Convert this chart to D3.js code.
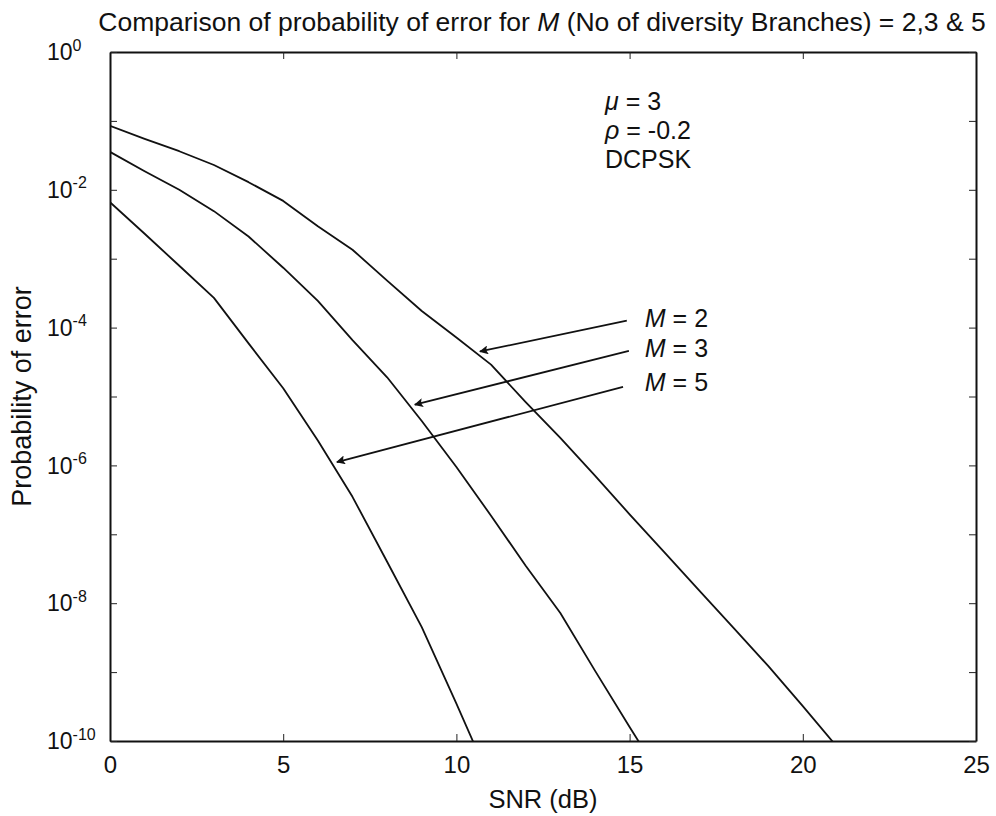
<!DOCTYPE html>
<html>
<head>
<meta charset="utf-8">
<script src="https://cdn.jsdelivr.net/npm/d3@7"></script>
<style>
  body { margin: 0; background: #fff; }
  svg { display: block; font-family: "Liberation Sans", Arial, Helvetica, sans-serif; }
</style>
</head>
<body>
<svg id="chart" width="996" height="816"></svg>
<script>
// ---- data ----
const snr = [0,1,2,3,4,5,6,7,8,9,10,11,12,13,14,15,16,17,18,19,20,21];
const peM2 = [0.0851,0.0550,0.0363,0.0229,0.0129,6.9e-3,2.95e-3,1.35e-3,4.8e-4,1.74e-4,7.2e-5,2.9e-5,8.3e-6,2.5e-6,7.1e-7,1.95e-7,5.5e-8,1.55e-8,4.4e-9,1.23e-9,3.2e-10,8.1e-11];
const peM3 = [0.0355,0.0186,0.0100,4.9e-3,2.1e-3,7.4e-4,2.45e-4,6.6e-5,1.9e-5,4.4e-6,9.5e-7,1.86e-7,3.5e-8,7.2e-9,1.05e-9,1.6e-10,2.5e-11];
const peM5 = [6.6e-3,2.3e-3,7.9e-4,2.7e-4,5.9e-5,1.32e-5,2.3e-6,3.5e-7,4.0e-8,4.5e-9,3.5e-10,2.5e-11];
const seriesNames = ["M = 2","M = 3","M = 5"];
const xTicks = [0,5,10,15,20,25];
const yTicks = [1,1e-1,1e-2,1e-3,1e-4,1e-5,1e-6,1e-7,1e-8,1e-9,1e-10];
const yLabelExps = [0,-2,-4,-6,-8,-10];
const titleText = ["Comparison of probability of error for ", "M", " (No of diversity Branches) = 2,3 & 5"];
const xTitle = "SNR (dB)";
const yTitle = "Probability of error";
const infoLines = [["\u03bc", " = 3"], ["\u03c1", " = -0.2"], ["", "DCPSK"]];
// arrow annotations: label anchor, arrow start, arrow tip (data coords: snr, Pe)
const arrows = [
  {label: "2", text: [15.44, 1.4e-4], from: [14.92, 1.26e-4], to: [10.68, 4.5e-5]},
  {label: "3", text: [15.44, 5.0e-5], from: [14.98, 4.6e-5], to: [8.80, 7.6e-6]},
  {label: "5", text: [15.44, 1.62e-5], from: [14.81, 1.38e-5], to: [6.55, 1.12e-6]}
];

// ---- layout ----
const svg = d3.select("#chart");
const L = 110, R = 976, T = 52, B = 741;
const x = d3.scaleLinear().domain([0, 25]).range([L, R]);
const y = d3.scaleLog().domain([1e-10, 1]).range([B, T]);

svg.append("defs").append("clipPath").attr("id", "plotclip")
  .append("rect").attr("x", L).attr("y", T).attr("width", R - L).attr("height", B - T);
const marker = svg.select("defs").append("marker")
  .attr("id", "arrowhead").attr("viewBox", "0 0 10 10")
  .attr("refX", 9).attr("refY", 5)
  .attr("markerWidth", 18).attr("markerHeight", 9)
  .attr("markerUnits", "userSpaceOnUse")
  .attr("orient", "auto");
marker.append("path").attr("d", "M0,0 L10,5 L0,10 L2,5 Z").attr("fill", "#111");

// axes
const axB = svg.append("g").attr("transform", `translate(0,${B})`)
  .call(d3.axisBottom(x).tickValues(xTicks).tickSizeInner(-7).tickSizeOuter(0).tickPadding(15));
const axT = svg.append("g").attr("transform", `translate(0,${T})`)
  .call(d3.axisTop(x).tickValues(xTicks).tickSizeInner(-7).tickSizeOuter(0).tickFormat(""));
const axL = svg.append("g").attr("transform", `translate(${L},0)`)
  .call(d3.axisLeft(y).tickValues(yTicks).tickSizeInner(-7).tickSizeOuter(0).tickFormat(""));
const axR = svg.append("g").attr("transform", `translate(${R},0)`)
  .call(d3.axisRight(y).tickValues(yTicks).tickSizeInner(-7).tickSizeOuter(0).tickFormat(""));
[axB, axT, axL, axR].forEach(g => {
  g.select(".domain").attr("stroke", "#111").attr("stroke-width", 2);
  g.selectAll(".tick line").attr("stroke", "#222").attr("stroke-width", 1);
  g.selectAll("text").attr("font-size", 24).attr("fill", "#111").attr("font-family", null);
});

// y tick labels 10^n
yLabelExps.forEach(e => {
  const t = svg.append("text").attr("x", 47).attr("y", y(Math.pow(10, e)))
    .attr("dy", "0.36em").attr("font-size", 23).attr("fill", "#111");
  t.append("tspan").text("10");
  t.append("tspan").attr("dy", "-0.6em").attr("font-size", 16).text(String(e));
});

// curves
const line = d3.line().x(d => x(d[0])).y(d => y(d[1]));
const plot = svg.append("g").attr("clip-path", "url(#plotclip)");
[peM2, peM3, peM5].forEach(vals => {
  const pts = vals.map((v, i) => [snr[i], v]);
  plot.append("path").datum(pts).attr("d", line)
    .attr("fill", "none").attr("stroke", "#111").attr("stroke-width", 1.8)
    .attr("stroke-linejoin", "round");
});

// arrows and labels
arrows.forEach(a => {
  svg.append("line")
    .attr("x1", x(a.from[0])).attr("y1", y(a.from[1]))
    .attr("x2", x(a.to[0])).attr("y2", y(a.to[1]))
    .attr("stroke", "#111").attr("stroke-width", 1.8)
    .attr("marker-end", "url(#arrowhead)");
  const t = svg.append("text").attr("x", x(a.text[0])).attr("y", y(a.text[1]))
    .attr("dy", "0.36em").attr("font-size", 25).attr("fill", "#111");
  t.append("tspan").attr("font-style", "italic").text("M");
  t.append("tspan").text(" = " + a.label);
});

// info text
infoLines.forEach((ln, i) => {
  const t = svg.append("text").attr("x", 605).attr("y", 110 + i * 29)
    .attr("font-size", 25).attr("fill", "#111");
  if (ln[0]) t.append("tspan").attr("font-style", "italic").text(ln[0]);
  t.append("tspan").text(ln[1]);
});

// title
const tt = svg.append("text").attr("x", 542).attr("y", 31).attr("text-anchor", "middle")
  .attr("font-size", 26.5).attr("fill", "#111");
titleText.forEach((s, i) => {
  const sp = tt.append("tspan").text(s);
  if (i === 1) sp.attr("font-style", "italic");
});

// axis titles
svg.append("text").attr("x", 543).attr("y", 808).attr("text-anchor", "middle")
  .attr("font-size", 25.5).attr("fill", "#111").text(xTitle);
svg.append("text").attr("transform", `translate(31,${(T + B) / 2}) rotate(-90)`)
  .attr("text-anchor", "middle").attr("font-size", 27).attr("fill", "#111").text(yTitle);
</script>
</body>
</html>
